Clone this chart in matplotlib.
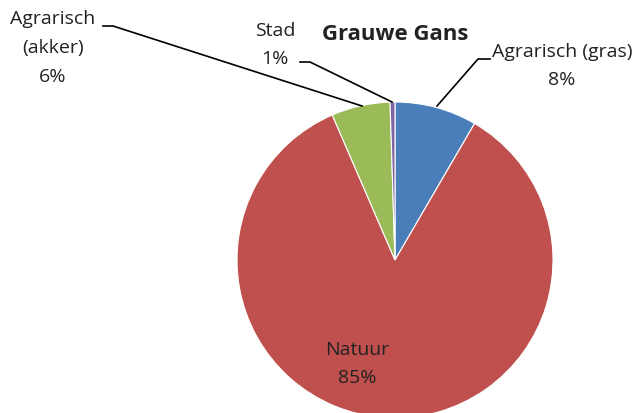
import matplotlib.pyplot as plt

# pie data, clockwise from the top
labels = ["Agrarisch (gras)", "Natuur", "Agrarisch\n(akker)", "Stad"]
values = [8.4, 85.1, 6.0, 0.5]
pct_labels = ["8%", "85%", "6%", "1%"]
colors = ["#4A7EBB", "#C0504D", "#9BBB59", "#8064A2"]

W, H = 638, 414
plt.rcParams["font.family"] = ["Open Sans", "DejaVu Sans"]

fig = plt.figure(figsize=(W / 100, H / 100), dpi=100)
ax = fig.add_axes([0, 0, 1, 1])

# pixel coords with y measured from the top
cx, cy, r = 395, 261, 158
ax.pie(values, colors=colors, startangle=90, counterclock=False,
       center=(cx, H - cy), radius=r,
       wedgeprops=dict(edgecolor="white", linewidth=0.8))
ax.set_xlim(0, W)
ax.set_ylim(0, H)
ax.set_aspect("equal")
ax.axis("off")

def px(x, y):
    return (x, H - y)

fs = 14
ls = 1.75
ax.text(*px(395, 35), "Grauwe Gans", fontsize=16, fontweight="bold",
        ha="center", va="center", color="#222222")

# labels
ax.text(*px(562, 66), labels[0] + "\n" + pct_labels[0], fontsize=fs,
        ha="center", va="center", linespacing=ls, color="#222222")
ax.text(*px(357, 364), labels[1] + "\n" + pct_labels[1], fontsize=fs,
        ha="center", va="center", linespacing=ls, color="#222222")
ax.text(*px(53, 48), labels[2] + "\n" + pct_labels[2], fontsize=fs,
        ha="center", va="center", linespacing=ls, color="#222222")
ax.text(*px(275, 45), labels[3] + "\n" + pct_labels[3], fontsize=fs,
        ha="center", va="center", linespacing=ls, color="#222222")

# leader lines
leaders = [
    [(490, 60), (478, 60), (437, 107)],
    [(103, 27), (113, 27), (362, 107)],
    [(300, 63), (310, 63), (392, 103)],
]
for pts in leaders:
    xs = [p[0] for p in pts]
    ys = [H - p[1] for p in pts]
    ax.plot(xs, ys, color="black", linewidth=1.2)

fig.savefig("out.png", dpi=100)
